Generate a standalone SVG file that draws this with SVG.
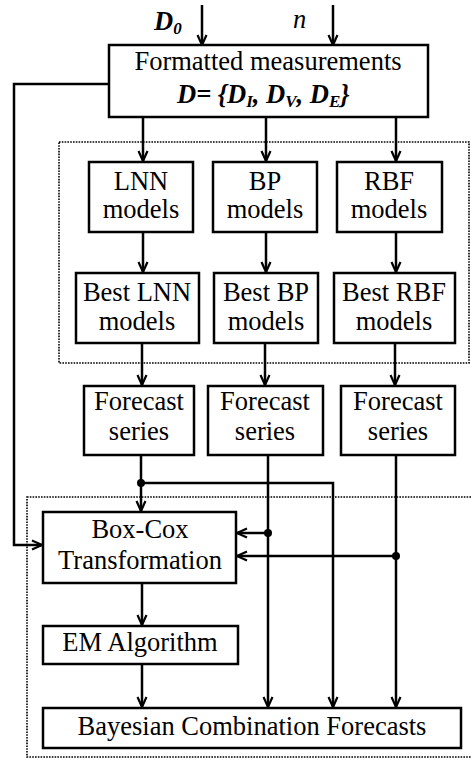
<svg xmlns="http://www.w3.org/2000/svg" width="471" height="759" viewBox="0 0 471 759">
  <style>
    .box { fill: #fff; stroke: #000; stroke-width: 2.5; }
    .frame { fill: none; stroke: #000; stroke-width: 1.6; stroke-dasharray: 1.6 1.2; }
    .wire { fill: none; stroke: #000; stroke-width: 2.5; }
    .lbl { font-family: "Liberation Serif", "Times New Roman", serif; font-size: 26.5px; fill: #000; text-anchor: middle; }
    .math { font-family: "Liberation Serif", "Times New Roman", serif; font-size: 26.5px; font-weight: bold; font-style: italic; fill: #000; }
    .var { font-family: "Liberation Serif", "Times New Roman", serif; font-size: 26.5px; font-style: italic; fill: #000; }
  </style>
  <defs>
    <marker id="arr" viewBox="0 0 12 12" refX="11" refY="6" markerWidth="12" markerHeight="12" markerUnits="userSpaceOnUse" orient="auto">
      <path d="M1,1.5 L11,6 L1,10.5" fill="none" stroke="#000" stroke-width="2.2"/>
    </marker>
  </defs>
  <rect width="471" height="759" fill="#fff"/>

  <!-- dashed group frames -->
  <rect class="frame" x="59" y="142" width="410" height="221"/>
  <rect class="frame" x="27" y="497" width="446" height="260"/>

  <!-- connectors -->
  <g id="connectors">
    <line class="wire" x1="202" y1="5" x2="202" y2="45" marker-end="url(#arr)"/>
    <line class="wire" x1="333" y1="5" x2="333" y2="45" marker-end="url(#arr)"/>
    <polyline class="wire" points="109,84 14,84 14,545 42,545" marker-end="url(#arr)"/>
    <line class="wire" x1="143" y1="117" x2="143" y2="161" marker-end="url(#arr)"/>
    <line class="wire" x1="266" y1="117" x2="266" y2="161" marker-end="url(#arr)"/>
    <line class="wire" x1="396" y1="117" x2="396" y2="161" marker-end="url(#arr)"/>
    <line class="wire" x1="143" y1="232" x2="143" y2="272" marker-end="url(#arr)"/>
    <line class="wire" x1="266" y1="232" x2="266" y2="272" marker-end="url(#arr)"/>
    <line class="wire" x1="396" y1="232" x2="396" y2="272" marker-end="url(#arr)"/>
    <line class="wire" x1="142" y1="343" x2="142" y2="385" marker-end="url(#arr)"/>
    <line class="wire" x1="265" y1="343" x2="265" y2="385" marker-end="url(#arr)"/>
    <line class="wire" x1="395" y1="343" x2="395" y2="385" marker-end="url(#arr)"/>
    <!-- LNN forecast split -->
    <line class="wire" x1="141" y1="455" x2="141" y2="511" marker-end="url(#arr)"/>
    <polyline class="wire" points="141,483 333,483 333,707" marker-end="url(#arr)"/>
    <circle cx="141" cy="483" r="4" fill="#000"/>
    <!-- BP forecast -->
    <line class="wire" x1="268" y1="455" x2="268" y2="707" marker-end="url(#arr)"/>
    <line class="wire" x1="268" y1="533" x2="237" y2="533" marker-end="url(#arr)"/>
    <circle cx="268" cy="533" r="4" fill="#000"/>
    <!-- RBF forecast -->
    <line class="wire" x1="396" y1="455" x2="396" y2="707" marker-end="url(#arr)"/>
    <line class="wire" x1="396" y1="556" x2="237" y2="556" marker-end="url(#arr)"/>
    <circle cx="396" cy="556" r="4" fill="#000"/>
    <!-- combination chain -->
    <line class="wire" x1="142" y1="583" x2="142" y2="625" marker-end="url(#arr)"/>
    <line class="wire" x1="142" y1="664" x2="142" y2="707" marker-end="url(#arr)"/>
  </g>

  <!-- input labels -->
  <g id="inputs">
    <text class="math" x="154" y="30">D<tspan font-size="17" dy="4">0</tspan></text>
    <text class="var" x="293" y="28">n</text>
  </g>

  <g id="formatted">
    <rect class="box" x="109" y="45" width="319" height="72"/>
    <text class="lbl" x="268" y="70">Formatted measurements</text>
    <text class="math" x="177" y="103">D= {D<tspan font-size="17" dy="4">I</tspan><tspan dy="-4">, D</tspan><tspan font-size="17" dy="4">V</tspan><tspan dy="-4">, D</tspan><tspan font-size="17" dy="4">E</tspan><tspan dy="-4">}</tspan></text>
  </g>

  <g id="lnn-models">
    <rect class="box" x="89" y="162" width="104" height="70"/>
    <text class="lbl" x="141" y="190">LNN</text>
    <text class="lbl" x="141" y="218">models</text>
  </g>
  <g id="bp-models">
    <rect class="box" x="213" y="162" width="104" height="70"/>
    <text class="lbl" x="265" y="190">BP</text>
    <text class="lbl" x="265" y="218">models</text>
  </g>
  <g id="rbf-models">
    <rect class="box" x="337" y="162" width="105" height="70"/>
    <text class="lbl" x="389" y="190">RBF</text>
    <text class="lbl" x="389" y="218">models</text>
  </g>

  <g id="best-lnn">
    <rect class="box" x="76" y="273" width="123" height="70"/>
    <text class="lbl" x="137" y="301">Best LNN</text>
    <text class="lbl" x="137" y="330">models</text>
  </g>
  <g id="best-bp">
    <rect class="box" x="214" y="273" width="104" height="70"/>
    <text class="lbl" x="266" y="301">Best BP</text>
    <text class="lbl" x="266" y="330">models</text>
  </g>
  <g id="best-rbf">
    <rect class="box" x="334" y="273" width="121" height="70"/>
    <text class="lbl" x="394" y="301">Best RBF</text>
    <text class="lbl" x="394" y="330">models</text>
  </g>

  <g id="forecast-lnn">
    <rect class="box" x="84" y="386" width="110" height="69"/>
    <text class="lbl" x="139" y="410">Forecast</text>
    <text class="lbl" x="139" y="440">series</text>
  </g>
  <g id="forecast-bp">
    <rect class="box" x="208" y="386" width="115" height="69"/>
    <text class="lbl" x="265" y="410">Forecast</text>
    <text class="lbl" x="265" y="440">series</text>
  </g>
  <g id="forecast-rbf">
    <rect class="box" x="341" y="386" width="114" height="69"/>
    <text class="lbl" x="398" y="410">Forecast</text>
    <text class="lbl" x="398" y="440">series</text>
  </g>

  <g id="box-cox">
    <rect class="box" x="43" y="512" width="193" height="71"/>
    <text class="lbl" x="140" y="538">Box-Cox</text>
    <text class="lbl" x="140" y="569">Transformation</text>
  </g>
  <g id="em">
    <rect class="box" x="43" y="626" width="195" height="38"/>
    <text class="lbl" x="140" y="651">EM Algorithm</text>
  </g>
  <g id="bayesian">
    <rect class="box" x="43" y="708" width="418" height="40"/>
    <text class="lbl" x="252" y="735">Bayesian Combination Forecasts</text>
  </g>
</svg>
